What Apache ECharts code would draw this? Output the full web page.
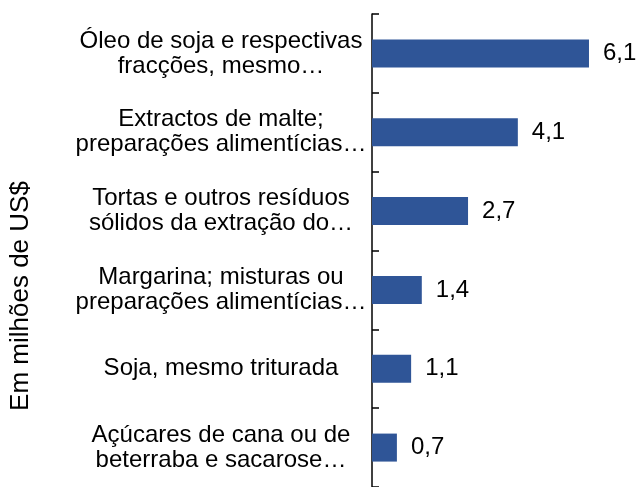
<!DOCTYPE html>
<html>
<head>
<meta charset="utf-8">
<script src="https://cdn.jsdelivr.net/npm/echarts@6/dist/echarts.min.js"></script>
<style>
  html, body { margin: 0; padding: 0; background: #fff; }
  #chart { width: 637px; height: 487px; }
</style>
</head>
<body>
<div id="chart"></div>
<script>
  // categorias, de cima para baixo
  var categories = [
    'Óleo de soja e respectivas\nfracções, mesmo…',
    'Extractos de malte;\npreparações alimentícias…',
    'Tortas e outros resíduos\nsólidos da extração do…',
    'Margarina; misturas ou\npreparações alimentícias…',
    'Soja, mesmo triturada',
    'Açúcares de cana ou de\nbeterraba e sacarose…'
  ];
  var values = [6.1, 4.1, 2.7, 1.4, 1.1, 0.7];
  var axisTitle = 'Em milhões de US$';

  var font = '"Liberation Sans", Arial, sans-serif';
  var chart = echarts.init(document.getElementById('chart'));
  chart.setOption({
    animation: false,
    grid: {
      left: 372,
      top: 14,
      width: 249,
      height: 477
    },
    xAxis: {
      type: 'value',
      min: 0,
      max: 7,
      show: false
    },
    yAxis: {
      type: 'category',
      inverse: true,
      data: categories,
      axisLine: { lineStyle: { color: '#000', width: 1.5 } },
      // marcas viradas para dentro (lado das barras)
      axisTick: { show: true, inside: true, length: 7, lineStyle: { color: '#000', width: 1.5 } },
      axisLabel: {
        align: 'center',
        margin: 151,
        color: '#000',
        fontSize: 24,
        lineHeight: 25,
        fontFamily: font
      }
    },
    graphic: [{
      type: 'text',
      x: 21,
      y: 296,
      rotation: Math.PI / 2,
      style: {
        text: axisTitle,
        fontSize: 26,
        fontFamily: font,
        fill: '#000',
        align: 'center',
        verticalAlign: 'middle'
      }
    }],
    series: [{
      type: 'bar',
      data: values,
      barWidth: 28,
      itemStyle: { color: '#2F5597' },
      label: {
        show: true,
        position: 'right',
        distance: 14,
        color: '#000',
        fontSize: 24,
        fontFamily: font,
        formatter: function (p) {
          return p.value.toFixed(1).replace('.', ',');
        }
      }
    }]
  });
</script>
</body>
</html>
